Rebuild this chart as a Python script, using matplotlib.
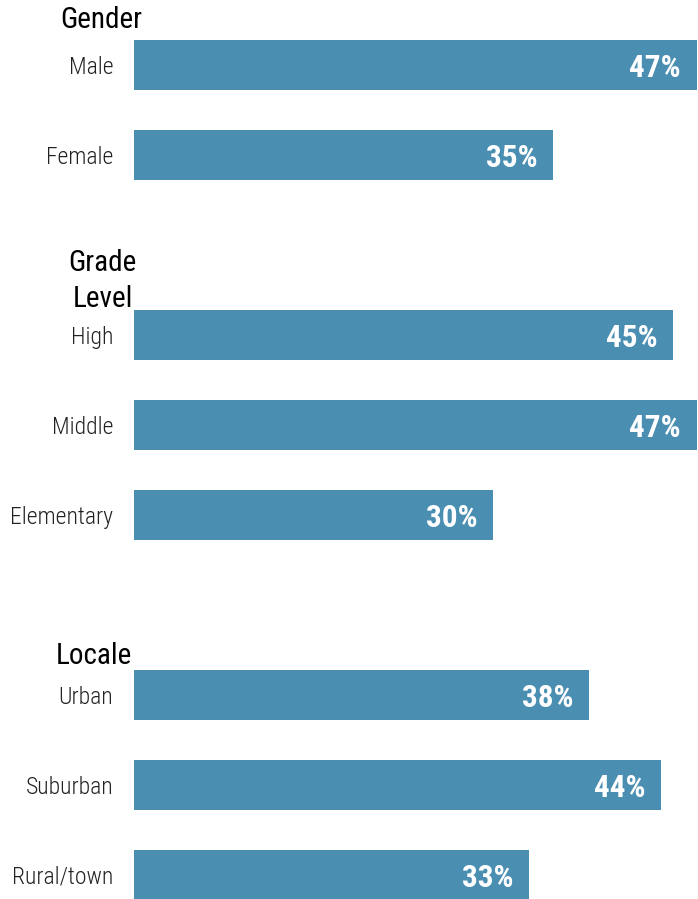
import matplotlib.pyplot as plt

groups = ["Gender", "Grade\nLevel", "Locale"]
labels = ["Male", "Female", "High", "Middle", "Elementary", "Urban", "Suburban", "Rural/town"]
values = [47, 35, 45, 47, 30, 38, 44, 33]
rows = [0, 1, 3, 4, 5, 7, 8, 9]
group_rows = [-0.5, 2.4, 6.57]
group_x = [-2.75, -2.6, -3.35]

plt.rcParams['font.family'] = ['Roboto Condensed', 'Roboto', 'DejaVu Sans']

fig = plt.figure(figsize=(6.98, 8.99), dpi=100)
ax = fig.add_axes([134 / 698, 0, 564 / 698, 1])

ax.barh(rows, values, height=0.56, color='#4a8eb1')
for r, v in zip(rows, values):
    ax.annotate(f"{v}%", (v, r), xytext=(-11.5, 0), textcoords='offset points',
                ha='right', va='center_baseline', color='white', fontsize=22.5,
                fontweight='bold')

ax.set_yticks(rows)
ax.set_yticklabels(labels, fontsize=17, color='#222222', fontweight='light')
ax.tick_params(axis='y', length=0, pad=15)
ax.set_xticks([])
ax.set_xlim(0, 564 / 11.98)
ax.set_ylim(9.267, -0.722)
for s in ax.spines.values():
    s.set_visible(False)

for g, x, r in zip(groups, group_x, group_rows):
    ax.text(x, r, g, ha='center', va='center', fontsize=21, color='black',
            linespacing=1.35)

fig.savefig('out.png', dpi=100)
